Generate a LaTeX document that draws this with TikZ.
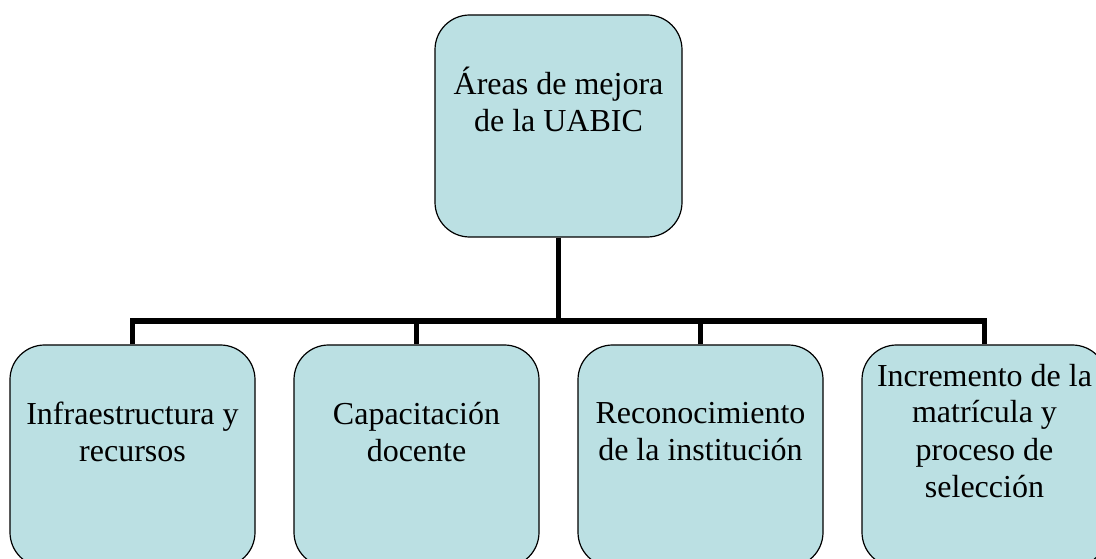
\documentclass[tikz,border=0pt]{standalone}
\usepackage{fontspec}
\setmainfont{Liberation Serif}
\definecolor{boxfill}{RGB}{187,224,227}
\begin{document}
\begin{tikzpicture}[x=0.75pt,y=-0.75pt,
  box/.style={draw=black, line width=0.9pt, fill=boxfill, rounded corners=26pt, inner sep=0pt},
  rootbox/.style={box, minimum width=185.25pt, minimum height=166.5pt},
  childbox/.style={box, minimum width=183.75pt, minimum height=166.5pt},
  lbl/.style={align=center, inner sep=0pt, anchor=base, font=\fontsize{24pt}{27.75pt}\selectfont},
  conn/.style={draw=black, line width=4.2pt, line join=miter}]
\clip (0,0) rectangle (1096,559);
\fill[white] (0,0) rectangle (1096,559);
\node[rootbox] (root) at (558.5,126) {};
\node[childbox] (c1) at (132.5,456) {};
\node[childbox] (c2) at (416.5,456) {};
\node[childbox] (c3) at (700.5,456) {};
\node[childbox] (c4) at (984.5,456) {};
\coordinate (bar) at (558.5,321);
\draw[conn] (root.south) -- (bar);
\draw[conn] (c1.north) |- (bar) -| (c4.north);
\draw[conn] (c2.north) -- (c2.north |- bar);
\draw[conn] (c3.north) -- (c3.north |- bar);
\node[lbl] (rootT) at (558.5,132) {Áreas de mejora\\de la UABIC};
\node[lbl] (c1T) at (132.5,461) {Infraestructura y\\recursos};
\node[lbl] (c2T) at (416.5,461) {Capacitación\\docente};
\node[lbl] (c3T) at (700.5,460) {Reconocimiento\\de la institución};
\node[lbl] (c4T) at (984.5,497) {Incremento de la\\matrícula y\\proceso de\\selección};
\end{tikzpicture}
\end{document}
